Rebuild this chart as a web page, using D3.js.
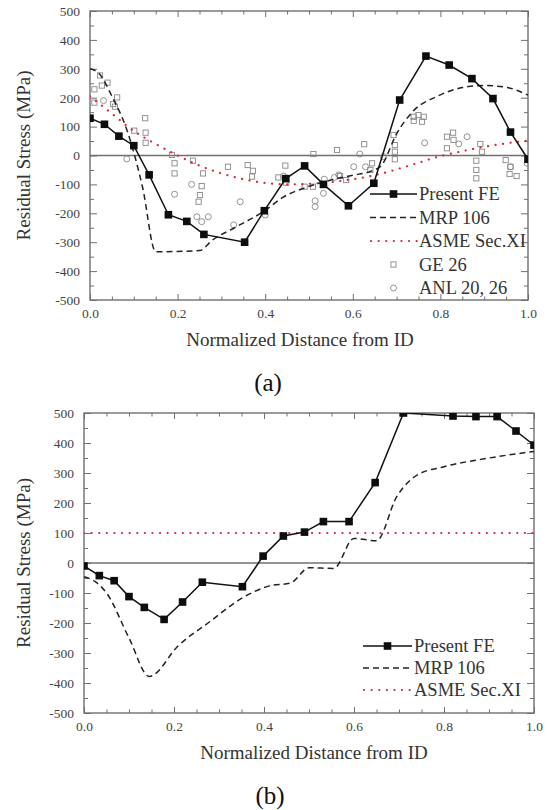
<!DOCTYPE html>
<html>
<head>
<meta charset="utf-8">
<style>
  body { margin: 0; background: #fff; }
  svg, svg text { font-family: "Liberation Serif", "Times New Roman", Times, serif; }
</style>
</head>
<body>
<svg id="chart" width="547" height="810"></svg>
<script src="https://d3js.org/d3.v7.min.js"></script>
<script>
// ---- panel (a) data ----
var feA_x = [0.0, 0.033, 0.066, 0.10, 0.135, 0.179, 0.221, 0.26, 0.353, 0.398, 0.447, 0.49, 0.533, 0.59, 0.648, 0.707, 0.767, 0.82, 0.872, 0.92, 0.96, 1.0];
var feA_y = [129, 108, 67, 34, -67, -205, -228, -273, -300, -191, -80, -36, -100, -174, -96, 192, 344, 313, 266, 197, 81, -13];

var mrpA_x = [0, 0.02, 0.05, 0.085, 0.12, 0.15, 0.25, 0.28, 0.33, 0.40, 0.44, 0.49, 0.55, 0.60, 0.64, 0.665, 0.70, 0.74, 0.79, 0.85, 0.90, 0.95, 1.0];
var mrpA_y = [300, 285, 205, 85, -110, -333, -329, -292, -250, -190, -145, -112, -85, -68, -55, -35, 75, 157, 203, 235, 242, 236, 209];

var asmeA_x = [0, 0.05, 0.1, 0.15, 0.2, 0.25, 0.3, 0.35, 0.4, 0.45, 0.5, 0.55, 0.6, 0.65, 0.7, 0.75, 0.8, 0.85, 0.9, 0.95, 1.0];
var asmeA_y = [205, 145, 85, 40, 0, -35, -62, -82, -95, -100, -98, -92, -82, -68, -48, -25, -2, 15, 30, 42, 52];

var geA_x = [0.010, 0.023, 0.027, 0.040, 0.010, 0.053, 0.057, 0.062, 0.101, 0.126, 0.127, 0.127, 0.187, 0.193, 0.193, 0.235, 0.258, 0.255, 0.251, 0.248, 0.315, 0.36, 0.372, 0.37, 0.43, 0.446, 0.448, 0.49, 0.509, 0.51, 0.564, 0.571, 0.585, 0.626, 0.644, 0.64, 0.693, 0.696, 0.696, 0.696, 0.739, 0.75, 0.762, 0.758, 0.739, 0.815, 0.829, 0.83, 0.815, 0.891, 0.895, 0.882, 0.882, 0.882, 0.949, 0.96, 0.958, 0.974];
var geA_y = [229, 277, 242, 252, 183, 178, 169, 201, 86, 129, 79, 44, 2, -27, -62, -18, -62, -106, -137, -160, -39, -33, -53, -73, -76, -35, -94, -108, -108, 5, 19, -71, -85, 39, -27, -50, 71, 36, 13, -13, 134, 140, 134, 117, 120, 65, 79, 54, 25, 40, 13, -18, -50, -79, -16, -39, -64, -71];

var anlA_x = [0.031, 0.084, 0.193, 0.232, 0.244, 0.255, 0.27, 0.328, 0.343, 0.40, 0.442, 0.514, 0.514, 0.533, 0.535, 0.558, 0.568, 0.602, 0.616, 0.629, 0.67, 0.764, 0.842, 0.861, 0.96, 0.998];
var anlA_y = [190, -12, -134, -100, -212, -229, -212, -240, -160, -206, -71, -157, -177, -131, -82, -76, -67, -39, 5, -39, -4, 44, 40, 65, -39, -27];

// ---- panel (b) data ----
var feB_x = [0.0, 0.034, 0.067, 0.10, 0.134, 0.178, 0.219, 0.263, 0.352, 0.398, 0.443, 0.49, 0.532, 0.589, 0.647, 0.71, 0.82, 0.871, 0.918, 0.96, 1.0];
var feB_y = [-10, -42, -59, -112, -148, -188, -130, -64, -79, 23, 90, 103, 138, 138, 268, 500, 490, 488, 488, 440, 393];

var mrpB_x = [0, 0.025, 0.05, 0.10, 0.145, 0.21, 0.28, 0.35, 0.41, 0.46, 0.50, 0.555, 0.60, 0.65, 0.695, 0.74, 0.80, 0.90, 1.0];
var mrpB_y = [-46, -62, -100, -250, -378, -275, -195, -118, -77, -66, -16, -18, 82, 74, 221, 293, 321, 350, 372];

var asmeB_x = [0, 1];
var asmeB_y = [100, 100];

// ---- axis ticks ----
var xMajor = [0, 0.2, 0.4, 0.6, 0.8, 1.0];
var xMinor = [0.05, 0.1, 0.15, 0.25, 0.3, 0.35, 0.45, 0.5, 0.55, 0.65, 0.7, 0.75, 0.85, 0.9, 0.95];
var yMajor = [-500, -400, -300, -200, -100, 0, 100, 200, 300, 400, 500];
var yMinor = [-450, -350, -250, -150, -50, 50, 150, 250, 350, 450];

var svg = d3.select('#chart');
var axisColor = '#707070';
var textColor = '#333';
var serif = 'Liberation Serif';

function styleAxis(sel) {
  sel.attr('font-family', serif).attr('font-size', null);
  sel.select('.domain').remove();
  sel.selectAll('line').attr('stroke', axisColor).attr('stroke-width', 1);
  sel.selectAll('text').attr('fill', '#444').attr('font-family', serif).style('font-size', '13.5px');
}

function drawPanel(p) {
  var x = d3.scaleLinear().domain([0, 1]).range([p.left, p.right]);
  var y = d3.scaleLinear().domain([-500, 500]).range([p.bottom, p.top]);
  var g = svg.append('g').attr('font-family', serif);

  g.append('clipPath').attr('id', p.id + '-clip').append('rect')
    .attr('x', p.left).attr('y', p.top)
    .attr('width', p.right - p.left).attr('height', p.bottom - p.top);

  // zero line
  g.append('line')
    .attr('x1', x(0)).attr('x2', x(1)).attr('y1', y(0)).attr('y2', y(0))
    .attr('stroke', axisColor).attr('stroke-width', 1.3);

  // ticks, all pointing inwards, mirrored on top and right
  var fmtX = d3.format('.1f');
  g.append('g').attr('transform', 'translate(0,' + p.bottom + ')')
    .call(d3.axisBottom(x).tickValues(xMajor).tickSize(-6).tickPadding(8).tickFormat(fmtX)).call(styleAxis);
  g.append('g').attr('transform', 'translate(0,' + p.bottom + ')')
    .call(d3.axisBottom(x).tickValues(xMinor).tickSize(-3.5).tickFormat('')).call(styleAxis);
  g.append('g').attr('transform', 'translate(0,' + p.top + ')')
    .call(d3.axisTop(x).tickValues(xMajor).tickSize(-6).tickFormat('')).call(styleAxis);
  g.append('g').attr('transform', 'translate(0,' + p.top + ')')
    .call(d3.axisTop(x).tickValues(xMinor).tickSize(-3.5).tickFormat('')).call(styleAxis);
  g.append('g').attr('transform', 'translate(' + p.left + ',0)')
    .call(d3.axisLeft(y).tickValues(yMajor).tickSize(-7).tickPadding(10).tickFormat(function(d) { return String(d); })).call(styleAxis);
  g.append('g').attr('transform', 'translate(' + p.left + ',0)')
    .call(d3.axisLeft(y).tickValues(yMinor).tickSize(-4).tickFormat('')).call(styleAxis);
  g.append('g').attr('transform', 'translate(' + p.right + ',0)')
    .call(d3.axisRight(y).tickValues(yMajor).tickSize(-7).tickFormat('')).call(styleAxis);
  g.append('g').attr('transform', 'translate(' + p.right + ',0)')
    .call(d3.axisRight(y).tickValues(yMinor).tickSize(-4).tickFormat('')).call(styleAxis);

  g.append('rect')
    .attr('x', p.left).attr('y', p.top)
    .attr('width', p.right - p.left).attr('height', p.bottom - p.top)
    .attr('fill', 'none').attr('stroke', axisColor).attr('stroke-width', 1.4);

  var data = g.append('g').attr('clip-path', 'url(#' + p.id + '-clip)');
  var line = d3.line().x(function(d) { return x(d[0]); }).y(function(d) { return y(d[1]); });

  if (p.ge) {
    data.selectAll('.ge').data(d3.zip(p.ge[0], p.ge[1])).join('rect')
      .attr('x', function(d) { return x(d[0]) - 2.6; }).attr('y', function(d) { return y(d[1]) - 2.6; })
      .attr('width', 5.2).attr('height', 5.2)
      .attr('fill', 'none').attr('stroke', '#888').attr('stroke-width', 0.9);
  }
  if (p.anl) {
    data.selectAll('.anl').data(d3.zip(p.anl[0], p.anl[1])).join('circle')
      .attr('cx', function(d) { return x(d[0]); }).attr('cy', function(d) { return y(d[1]); })
      .attr('r', 3)
      .attr('fill', 'none').attr('stroke', '#888').attr('stroke-width', 0.9);
  }

  data.append('path').attr('d', line.curve(d3.curveMonotoneX)(d3.zip(p.asme[0], p.asme[1])))
    .attr('fill', 'none').attr('stroke', '#d42a3c').attr('stroke-width', 2.2)
    .attr('stroke-linecap', 'round').attr('stroke-dasharray', '0.1,7.5');
  data.append('path').attr('d', line.curve(d3.curveMonotoneX)(d3.zip(p.mrp[0], p.mrp[1])))
    .attr('fill', 'none').attr('stroke', '#222').attr('stroke-width', 1.5)
    .attr('stroke-dasharray', '6,4');
  var fe = d3.zip(p.fe[0], p.fe[1]);
  data.append('path').attr('d', line.curve(d3.curveLinear)(fe))
    .attr('fill', 'none').attr('stroke', '#111').attr('stroke-width', 1.5);
  data.selectAll('.fe').data(fe).join('rect')
    .attr('x', function(d) { return x(d[0]) - 3.8; }).attr('y', function(d) { return y(d[1]) - 3.8; })
    .attr('width', 7.6).attr('height', 7.6).attr('fill', '#0d0d0d');

  // axis titles and panel label
  g.append('text')
    .attr('transform', 'translate(' + 30 + ',' + ((p.top + p.bottom) / 2) + ') rotate(-90)')
    .attr('text-anchor', 'middle').attr('fill', textColor).attr('font-family', serif)
    .style('font-size', '19px').text('Residual Stress (MPa)');
  g.append('text')
    .attr('x', p.titleX).attr('y', p.bottom + 46)
    .attr('text-anchor', 'middle').attr('fill', textColor).attr('font-family', serif)
    .style('font-size', '19px').text('Normalized Distance from ID');
  g.append('text')
    .attr('x', p.labelX).attr('y', p.bottom + 91)
    .attr('text-anchor', 'middle').attr('fill', '#111').attr('font-family', serif)
    .style('font-size', '25px').text(p.label);

  // legend
  var leg = g.append('g');
  p.legend.forEach(function(item, i) {
    var ly = p.legY + i * p.legStep;
    var cx = (p.legX0 + p.legX1) / 2;
    if (item.kind === 'fe') {
      leg.append('line').attr('x1', p.legX0).attr('x2', p.legX1).attr('y1', ly).attr('y2', ly)
        .attr('stroke', '#111').attr('stroke-width', 1.5);
      leg.append('rect').attr('x', cx - 3.8).attr('y', ly - 3.8).attr('width', 7.6).attr('height', 7.6).attr('fill', '#0d0d0d');
    } else if (item.kind === 'mrp') {
      leg.append('line').attr('x1', p.legX0).attr('x2', p.legX1).attr('y1', ly).attr('y2', ly)
        .attr('stroke', '#222').attr('stroke-width', 1.5).attr('stroke-dasharray', '6,4');
    } else if (item.kind === 'asme') {
      leg.append('line').attr('x1', p.legX0 + 1).attr('x2', p.legX1).attr('y1', ly).attr('y2', ly)
        .attr('stroke', '#d42a3c').attr('stroke-width', 2.2).attr('stroke-linecap', 'round').attr('stroke-dasharray', '0.1,7.5');
    } else if (item.kind === 'ge') {
      leg.append('rect').attr('x', cx - 2.6).attr('y', ly - 2.6).attr('width', 5.2).attr('height', 5.2)
        .attr('fill', 'none').attr('stroke', '#888').attr('stroke-width', 0.9);
    } else if (item.kind === 'anl') {
      leg.append('circle').attr('cx', cx).attr('cy', ly).attr('r', 3)
        .attr('fill', 'none').attr('stroke', '#888').attr('stroke-width', 0.9);
    }
    leg.append('text').attr('x', p.legX1 + 2).attr('y', ly).attr('dy', '0.35em')
      .attr('fill', textColor).attr('font-family', serif).style('font-size', '18.5px').text(item.name);
  });
}

drawPanel({
  id: 'a', left: 90, right: 528, top: 11, bottom: 300,
  fe: [feA_x, feA_y], mrp: [mrpA_x, mrpA_y], asme: [asmeA_x, asmeA_y],
  ge: [geA_x, geA_y], anl: [anlA_x, anlA_y],
  titleX: 300, labelX: 268, label: '(a)',
  legX0: 370, legX1: 417, legY: 194, legStep: 23.5,
  legend: [
    { kind: 'fe', name: 'Present FE' },
    { kind: 'mrp', name: 'MRP 106' },
    { kind: 'asme', name: 'ASME Sec.XI' },
    { kind: 'ge', name: 'GE 26' },
    { kind: 'anl', name: 'ANL 20, 26' }
  ]
});

drawPanel({
  id: 'b', left: 84, right: 534, top: 413, bottom: 713,
  fe: [feB_x, feB_y], mrp: [mrpB_x, mrpB_y], asme: [asmeB_x, asmeB_y],
  titleX: 314, labelX: 270, label: '(b)',
  legX0: 363, legX1: 412, legY: 646, legStep: 22,
  legend: [
    { kind: 'fe', name: 'Present FE' },
    { kind: 'mrp', name: 'MRP 106' },
    { kind: 'asme', name: 'ASME Sec.XI' }
  ]
});
</script>
</body>
</html>
